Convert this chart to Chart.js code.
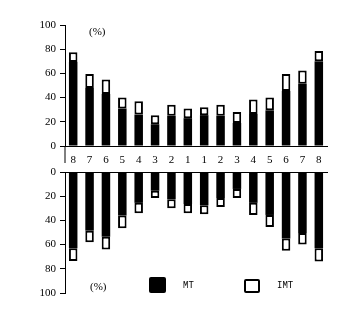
<!DOCTYPE html>
<html>
<head>
<meta charset="utf-8">
<script src="https://cdn.jsdelivr.net/npm/chart.js@4"></script>
<style>
  html, body { margin: 0; padding: 0; background: #fff; }
  #wrap { position: relative; width: 359px; height: 312px; overflow: hidden; }
  canvas { position: absolute; left: 0; }
  .lbl { position: absolute; font-family: "Liberation Serif", serif; font-size: 11px; color: #000; line-height: 12px; }
  .leg-box { position: absolute; box-sizing: border-box; }
  .leg-txt { position: absolute; font-family: "Liberation Mono", monospace; font-size: 10px; line-height: 12px; color: #000; transform: scaleX(0.9); transform-origin: left center; }
</style>
</head>
<body>
<div id="wrap">
  <canvas id="top" width="359" height="170" style="top:0px"></canvas>
  <canvas id="bot" width="359" height="162" style="top:150px"></canvas>
  <div class="lbl" style="left:89px; top:25px;">(%)</div>
  <div class="lbl" style="left:90px; top:280px;">(%)</div>
  <div id="legend"></div>
</div>
<script>
// ---- data ----
const categories = ['8','7','6','5','4','3','2','1','1','2','3','4','5','6','7','8'];
const seriesNames = ['MT', 'IMT'];
const yTicks = [0, 20, 40, 60, 80, 100];
// upper panel
const upperMT  = [69.5, 48, 43, 31, 26, 18, 25, 23, 25.5, 25, 19, 26.5, 29.5, 45.5, 51.5, 70];
const upperIMT = [8, 11.5, 12, 9, 11, 7.5, 9, 8, 6.5, 9, 9, 12, 10.5, 14, 11, 8.5];
// lower panel
const lowerMT  = [63, 48.5, 53.5, 36, 25.5, 15.5, 22.5, 26.5, 27.5, 21.5, 14, 25.5, 35.5, 55, 50.5, 63];
const lowerIMT = [10.5, 9.5, 10.5, 10.5, 8.5, 6, 7.5, 7.5, 7.5, 7.5, 7.5, 10, 10, 10, 9.5, 11];

const FONT = { family: '"Liberation Serif", serif', size: 11 };
const AXIS_W = 65;

function datasets(mt, imt) {
  return [
    { label: seriesNames[0], data: mt, backgroundColor: '#000', borderWidth: 0,
      barPercentage: 0.52, categoryPercentage: 1 },
    { label: seriesNames[1], data: imt, backgroundColor: '#fff', borderColor: '#000',
      borderWidth: 2, borderSkipped: false, barPercentage: 0.52, categoryPercentage: 1 }
  ];
}

function yScale(reverse) {
  return {
    stacked: true, min: 0, max: 100, reverse: reverse,
    afterBuildTicks: (axis) => { axis.ticks = yTicks.map(v => ({ value: v })); },
    afterFit: (axis) => { axis.width = AXIS_W; },
    ticks: { color: '#000', font: FONT, padding: 4 },
    grid: { drawOnChartArea: false, tickLength: 5, color: '#000', lineWidth: 1 },
    border: { display: true, color: '#000', width: 1 }
  };
}

const stubLine = {
  id: 'stubLine',
  afterDraw(chart) {
    const { ctx, chartArea } = chart;
    ctx.save();
    ctx.strokeStyle = '#000';
    ctx.lineWidth = 1;
    ctx.beginPath();
    ctx.moveTo(chartArea.left, chartArea.bottom);
    ctx.lineTo(chartArea.left, chartArea.bottom + 17);
    ctx.stroke();
    ctx.restore();
  }
};

new Chart(document.getElementById('top'), {
  type: 'bar',
  data: { labels: categories, datasets: datasets(upperMT, upperIMT) },
  options: {
    responsive: false, animation: false, devicePixelRatio: 1,
    layout: { padding: { top: 25, right: 32, left: 0, bottom: 0 } },
    plugins: { legend: { display: false }, tooltip: { enabled: false } },
    scales: {
      x: {
        stacked: true,
        afterFit: (axis) => { axis.height = 24; },
        ticks: { color: '#000', font: FONT, padding: 8, maxRotation: 0, autoSkip: false },
        grid: { drawOnChartArea: false, drawTicks: false },
        border: { display: true, color: '#000', width: 1 }
      },
      y: yScale(false)
    }
  },
  plugins: [stubLine]
});

new Chart(document.getElementById('bot'), {
  type: 'bar',
  data: { labels: categories, datasets: datasets(lowerMT, lowerIMT) },
  options: {
    responsive: false, animation: false, devicePixelRatio: 1,
    layout: { padding: { top: 22, right: 32, left: 0, bottom: 19 } },
    plugins: { legend: { display: false }, tooltip: { enabled: false } },
    scales: {
      x: {
        stacked: true, position: 'top',
        afterFit: (axis) => { axis.height = 0; },
        ticks: { display: false },
        grid: { drawOnChartArea: false, drawTicks: false },
        border: { display: true, color: '#000', width: 1 }
      },
      y: yScale(true)
    }
  }
});

// HTML legend built from series names
const legendSpec = [
  { name: seriesNames[0], boxLeft: 149, boxTop: 277, w: 17, h: 16, fill: '#000', border: '0', txtLeft: 183 },
  { name: seriesNames[1], boxLeft: 244, boxTop: 279, w: 16, h: 14, fill: '#fff', border: '2px solid #000', txtLeft: 277 }
];
const legEl = document.getElementById('legend');
legendSpec.forEach(s => {
  const b = document.createElement('div');
  b.className = 'leg-box';
  b.style.cssText = `left:${s.boxLeft}px;top:${s.boxTop}px;width:${s.w}px;height:${s.h}px;background:${s.fill};border:${s.border};border-radius:2px;`;
  legEl.appendChild(b);
  const t = document.createElement('div');
  t.className = 'leg-txt';
  t.style.left = s.txtLeft + 'px';
  t.style.top = '280px';
  t.textContent = s.name;
  legEl.appendChild(t);
});
</script>
</body>
</html>
